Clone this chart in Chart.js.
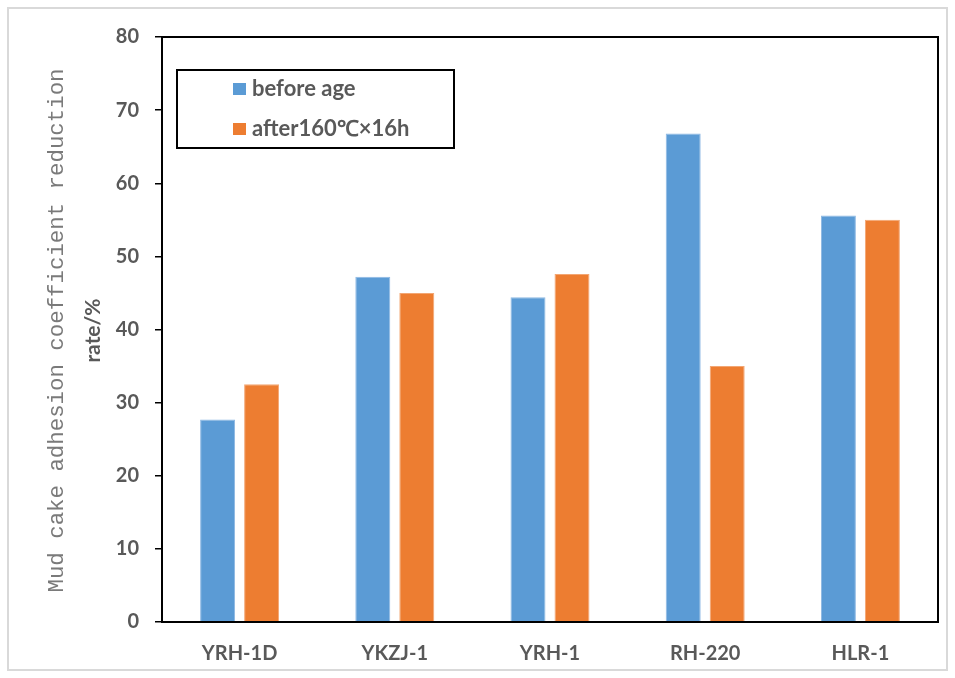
<!DOCTYPE html>
<html>
<head>
<meta charset="utf-8">
<script src="https://cdn.jsdelivr.net/npm/chart.js@4/dist/chart.umd.min.js"></script>
<style>
  html, body { margin: 0; padding: 0; background: #fff; }
  #wrap { width: 955px; height: 678px; }
</style>
</head>
<body>
<div id="wrap"><canvas id="c" width="955" height="678"></canvas></div>
<script>
// Sample names along the x axis
const categories = ['YRH-1D', 'YKZJ-1', 'YRH-1', 'RH-220', 'HLR-1'];
// Reduction rate (%) of mud cake adhesion coefficient
const beforeAge = [27.7, 47.2, 44.4, 66.8, 55.6];
const afterAging = [32.5, 45.0, 47.6, 35.0, 55.0];
// Series names
const seriesNames = ['before age', 'after160\u2103\u00d716h'];
// Value axis range
const yMin = 0, yMax = 80, yStep = 10;

const TEXT_GRAY = '#595959';
const BLUE = '#5B9BD5';
const ORANGE = '#ED7D31';

// Page frame, plot box, boxed legend and the two-line axis title
const decorations = {
  id: 'decorations',
  beforeDraw(chart) {
    const ctx = chart.ctx;
    ctx.save();
    ctx.fillStyle = '#fff';
    ctx.fillRect(0, 0, chart.width, chart.height);
    ctx.strokeStyle = '#d9d9d9';
    ctx.lineWidth = 2;
    ctx.strokeRect(8, 8, chart.width - 16, chart.height - 16);
    ctx.restore();
  },
  afterDraw(chart) {
    const ctx = chart.ctx;
    const a = chart.chartArea;
    ctx.save();
    // plot box
    ctx.strokeStyle = '#000';
    ctx.lineWidth = 2;
    ctx.strokeRect(a.left, a.top, a.right - a.left, a.bottom - a.top);

    // legend
    const lx = a.left + 15, ly = a.top + 33, lw = 277, lh = 78;
    ctx.lineWidth = 2;
    ctx.strokeRect(lx, ly, lw, lh);
    ctx.font = 'bold 22px Lato';
    ctx.textBaseline = 'middle';
    ctx.textAlign = 'left';
    chart.data.datasets.forEach((ds, i) => {
      const cy = ly + 19 + i * 40;
      ctx.fillStyle = ds.backgroundColor;
      ctx.fillRect(lx + 56, cy - 6, 13, 12);
      ctx.fillStyle = TEXT_GRAY;
      ctx.fillText(ds.label, lx + 75, cy);
    });

    // y axis title
    const cy = (a.top + a.bottom) / 2 + 1;
    ctx.translate(0, cy);
    ctx.rotate(-Math.PI / 2);
    ctx.textAlign = 'center';
    ctx.textBaseline = 'middle';
    ctx.fillStyle = '#7a7a7a';
    ctx.font = '22.4px "Liberation Mono"';
    ctx.fillText('Mud cake adhesion coefficient reduction', 0, 57);
    ctx.fillStyle = TEXT_GRAY;
    ctx.font = 'bold 21px Lato';
    ctx.fillText('rate/%', 0, 93);
    ctx.restore();
  }
};

new Chart(document.getElementById('c'), {
  type: 'bar',
  data: {
    labels: categories,
    datasets: [
      { label: seriesNames[0], data: beforeAge, backgroundColor: BLUE,
        borderColor: '#8db8e3', borderWidth: 1 },
      { label: seriesNames[1], data: afterAging, backgroundColor: ORANGE,
        borderColor: '#f3a673', borderWidth: 1 }
    ]
  },
  options: {
    responsive: false,
    animation: false,
    devicePixelRatio: 1,
    categoryPercentage: 0.567,
    barPercentage: 0.795,
    layout: { padding: { top: 37, right: 17, left: 0, bottom: 0 } },
    plugins: {
      legend: { display: false },
      tooltip: { enabled: false }
    },
    scales: {
      x: {
        grid: { display: false, drawTicks: false },
        border: { display: true, color: '#000', width: 2 },
        ticks: {
          color: TEXT_GRAY,
          font: { family: 'Lato', size: 20, weight: 'bold' },
          padding: 20,
          maxRotation: 0
        },
        afterFit(scale) { scale.height = 56; }
      },
      y: {
        min: yMin, max: yMax,
        grid: { drawOnChartArea: false, drawTicks: true, tickLength: 7, color: '#000', lineWidth: 1.5 },
        border: { display: true, color: '#000', width: 2 },
        ticks: {
          stepSize: yStep,
          color: TEXT_GRAY,
          font: { family: 'Lato', size: 20, weight: 'bold' },
          padding: 16
        },
        afterFit(scale) { scale.width = 162; }
      }
    }
  },
  plugins: [decorations]
});
</script>
</body>
</html>
